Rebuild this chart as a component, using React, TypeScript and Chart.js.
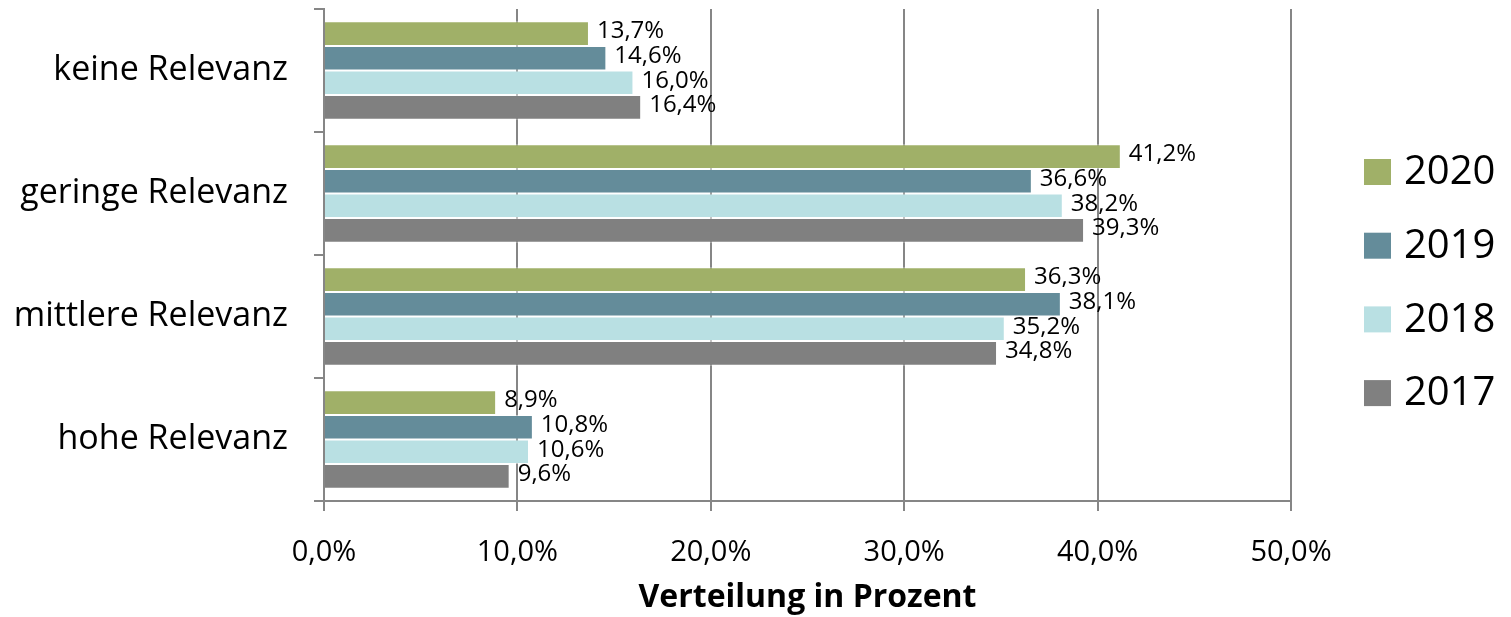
import { useEffect, useRef } from "react";
import { Chart, registerables } from "chart.js";

Chart.register(...registerables);

const categories = ["keine Relevanz", "geringe Relevanz", "mittlere Relevanz", "hohe Relevanz"];
const seriesNames = ["2020", "2019", "2018", "2017"];
const values2020 = [13.7, 41.2, 36.3, 8.9];
const values2019 = [14.6, 36.6, 38.1, 10.8];
const values2018 = [16.0, 38.2, 35.2, 10.6];
const values2017 = [16.4, 39.3, 34.8, 9.6];
const seriesColors = ["#A0B068", "#648C9A", "#B9E0E3", "#808080"];
const xTickValues = [0, 10, 20, 30, 40, 50];
const axisTitle = "Verteilung in Prozent";

const FONT = "'Open Sans', 'DejaVu Sans', sans-serif";
const GRID = "#868686";

const fmt = (v: number) => v.toFixed(1).replace(".", ",") + "%";

const valueLabelPlugin = {
  id: "valueLabels",
  afterDatasetsDraw(chart: any) {
    const ctx = chart.ctx;
    ctx.save();
    ctx.font = `24px ${FONT}`;
    ctx.fillStyle = "#000";
    ctx.textAlign = "left";
    ctx.textBaseline = "middle";
    chart.data.datasets.forEach((ds: any, di: number) => {
      const meta = chart.getDatasetMeta(di);
      meta.data.forEach((el: any, i: number) => {
        ctx.fillText(fmt(ds.data[i]), el.x + 8, el.y - 2);
      });
    });
    ctx.restore();
  },
};

const sideLegendPlugin = {
  id: "sideLegend",
  afterDraw(chart: any) {
    const ctx = chart.ctx;
    const area = chart.chartArea;
    const boxX = area.right + 73;
    const firstY = 164;
    const step = 73.7;
    ctx.save();
    ctx.font = `40px ${FONT}`;
    ctx.textAlign = "left";
    ctx.textBaseline = "middle";
    chart.data.datasets.forEach((ds: any, i: number) => {
      const cy = firstY + i * step;
      ctx.fillStyle = ds.backgroundColor;
      ctx.fillRect(boxX, cy - 13, 27, 26);
      ctx.fillStyle = "#000";
      ctx.fillText(ds.label, boxX + 40, cy + 1);
    });
    ctx.restore();
  },
};

export default function App() {
  const ref = useRef<HTMLCanvasElement | null>(null);

  useEffect(() => {
    if (!ref.current) return;
    const allValues = [values2020, values2019, values2018, values2017];
    const chart = new Chart(ref.current, {
      type: "bar",
      data: {
        labels: categories,
        datasets: seriesNames.map((name, i) => ({
          label: name,
          data: allValues[i],
          backgroundColor: seriesColors[i],
          borderColor: "rgba(255,255,255,0.5)",
          borderWidth: 1,
          categoryPercentage: 0.8,
          barPercentage: 1.0,
        })),
      },
      options: {
        indexAxis: "y",
        animation: false,
        responsive: true,
        maintainAspectRatio: false,
        layout: { padding: { left: 0, right: 212, top: 1, bottom: 0 } },
        plugins: {
          legend: { display: false },
          tooltip: { enabled: false },
        },
        scales: {
          x: {
            min: 0,
            max: 50,
            afterBuildTicks: (scale: any) => {
              scale.ticks = xTickValues.map((v) => ({ value: v }));
            },
            ticks: {
              callback: (v: any) => fmt(Number(v)),
              font: { family: FONT, size: 29 },
              color: "#000",
              padding: 24,
              maxRotation: 0,
            },
            grid: { color: GRID, lineWidth: 2, tickLength: 10, drawTicks: true },
            border: { color: GRID, width: 2 },
            title: {
              display: true,
              text: axisTitle,
              font: { family: FONT, size: 32, weight: "bold" },
              color: "#000",
              padding: { top: 0, bottom: 0 },
            },
            afterFit: (scale: any) => {
              scale.height = 116;
              scale.paddingRight = 0;
            },
          },
          y: {
            grid: {
              drawOnChartArea: false,
              drawTicks: true,
              tickLength: 10,
              color: GRID,
              lineWidth: 2,
              offset: true,
            },
            border: { color: GRID, width: 2 },
            ticks: {
              font: { family: FONT, size: 34 },
              color: "#000",
              padding: 26,
            },
            afterFit: (scale: any) => {
              scale.width = 316;
              scale.paddingTop = 0;
              scale.paddingBottom = 0;
            },
          },
        },
      } as any,
      plugins: [valueLabelPlugin, sideLegendPlugin],
    });
    return () => chart.destroy();
  }, []);

  return (
    <div style={{ width: "100%", height: "609px", position: "relative" }}>
      <canvas ref={ref} />
    </div>
  );
}
